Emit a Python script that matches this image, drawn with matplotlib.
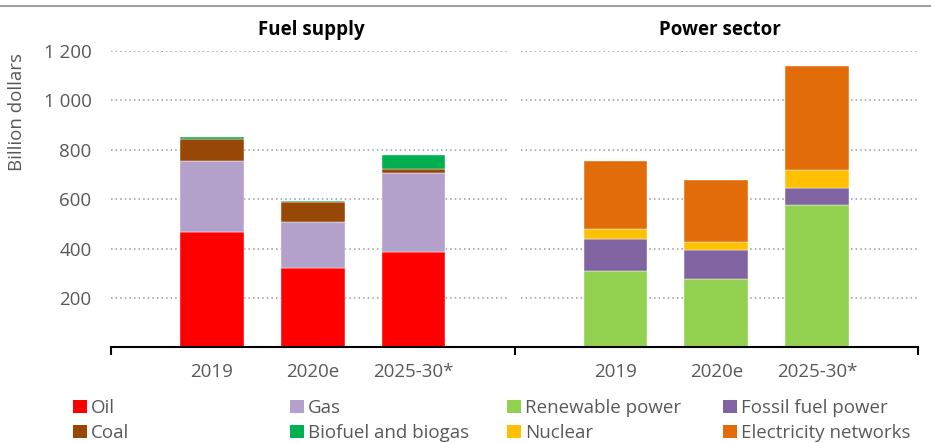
import matplotlib
matplotlib.use('Agg')
import matplotlib.pyplot as plt
from matplotlib.patches import Patch
from matplotlib.lines import Line2D

plt.rcParams['font.family'] = ['Open Sans', 'DejaVu Sans']

# ---- data ----
periods = ['2019', '2020e', '2025-30*']
panel_titles = ['Fuel supply', 'Power sector']

oil = [466, 323, 387]
gas = [290, 186, 318]
coal = [89, 78, 18]
biofuel = [7, 6, 55]

renewable = [309, 277, 578]
fossil = [131, 116, 69]
nuclear = [38, 32, 72]
networks = [278, 253, 421]

yticks = [200, 400, 600, 800, 1000, 1200]
ytick_labels = ['200', '400', '600', '800', '1 000', '1 200']

fuel_names = ['Oil', 'Gas', 'Coal', 'Biofuel and biogas']
power_names = ['Renewable power', 'Fossil fuel power', 'Nuclear', 'Electricity networks']

colors = {
    'Oil': '#FF0000', 'Gas': '#B3A0CB', 'Coal': '#974706', 'Biofuel and biogas': '#00B050',
    'Renewable power': '#92D050', 'Fossil fuel power': '#8064A2', 'Nuclear': '#FFC000',
    'Electricity networks': '#E36C0A',
}

W, H = 931, 443
fig = plt.figure(figsize=(W / 100, H / 100), dpi=100)
ax = fig.add_axes([111 / W, 1 - 347.4 / H, (918 - 111) / W, (347.4 - 51) / H])

grey = '#595959'
fs = 13.5
fuel_x = [1, 2, 3]
power_x = [5, 6, 7]
bw = 0.63

def stack(xs, series, names):
    bottom = [0] * len(xs)
    for vals, name in zip(series, names):
        ax.bar(xs, vals, bw, bottom=bottom, color=colors[name], edgecolor='white',
               linewidth=0.3, zorder=3)
        bottom = [b + v for b, v in zip(bottom, vals)]

stack(fuel_x, [oil, gas, coal, biofuel], fuel_names)
stack(power_x, [renewable, fossil, nuclear, networks], power_names)

ax.set_xlim(0, 8)
ax.set_ylim(0, 1200)

# gridlines in two segments (gap at separator)
for y in yticks:
    ax.hlines(y, 0, 3.93, colors='#9A9A9A', linestyles=(0, (1, 2)), linewidth=1.1, zorder=1)
    ax.hlines(y, 4.06, 8, colors='#9A9A9A', linestyles=(0, (1, 2)), linewidth=1.1, zorder=1)

for s in ['top', 'right', 'left']:
    ax.spines[s].set_visible(False)
ax.spines['bottom'].set_linewidth(1.5)
ax.spines['bottom'].set_zorder(4)

ax.set_yticks(yticks)
ax.set_yticklabels(ytick_labels, color=grey, fontsize=fs)
ax.tick_params(axis='y', length=0, pad=14)

ax.set_xticks([0, 4, 8])
ax.set_xticklabels(['', '', ''])
ax.tick_params(axis='x', which='major', length=6, width=1.5, direction='out')
ax.set_xticks(fuel_x + power_x, minor=True)
ax.set_xticklabels(periods + periods, minor=True, color=grey, fontsize=fs)
ax.tick_params(axis='x', which='minor', length=0, pad=11)

# titles
fig.text(311 / W, 1 - 30 / H, panel_titles[0], ha='center', va='center', fontsize=fs,
         fontweight='bold', color='black')
fig.text(720 / W, 1 - 30 / H, panel_titles[1], ha='center', va='center', fontsize=fs,
         fontweight='bold', color='black')

fig.text(17 / W, 1 - 112 / H, 'Billion dollars', rotation=90, ha='center', va='center',
         fontsize=fs, color=grey)

# top line
fig.add_artist(Line2D([0, 1], [1 - 6 / H, 1 - 6 / H], transform=fig.transFigure,
                      color='#A0A0A0', linewidth=1.5))

# legend columns
legend_cols = [['Oil', 'Coal'], ['Gas', 'Biofuel and biogas'],
               ['Renewable power', 'Nuclear'], ['Fossil fuel power', 'Electricity networks']]
col_x = [73, 290, 507, 723]
for names, x in zip(legend_cols, col_x):
    handles = [Patch(facecolor=colors[n], edgecolor='none') for n in names]
    leg = fig.legend(handles, names, loc='upper left', bbox_to_anchor=(x / W, 1 - 399 / H),
                     frameon=False, fontsize=fs, handlelength=0.75, handleheight=0.75,
                     handletextpad=0.2, labelspacing=0.37, borderpad=0, borderaxespad=0)
    for t in leg.get_texts():
        t.set_color(grey)

fig.savefig('out.png', dpi=100)
